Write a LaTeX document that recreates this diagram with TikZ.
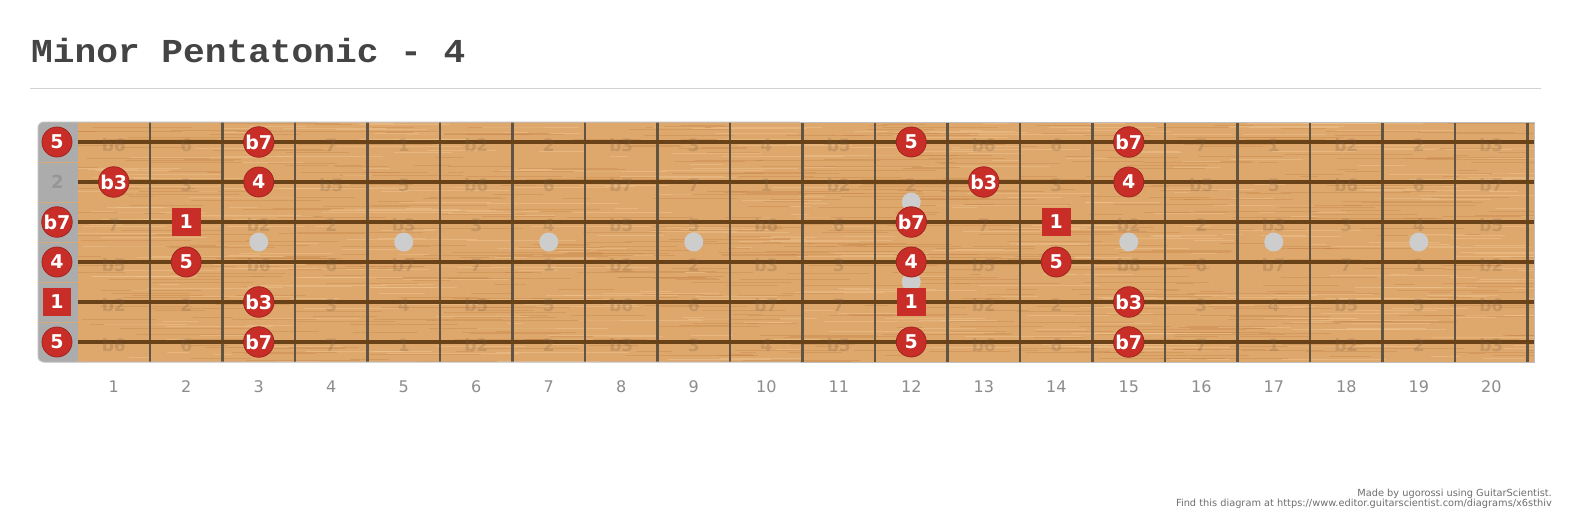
\documentclass[tikz,border=0pt]{standalone}
\usepackage{fontspec}
\setmainfont{DejaVu Sans}
\newfontfamily\titlefont[FakeStretch=1.08]{Liberation Mono}
\usetikzlibrary{positioning}

\definecolor{notered}{RGB}{200,45,40}
\definecolor{wood}{RGB}{222,168,108}
\definecolor{grainDark}{RGB}{190,120,60}
\definecolor{grainLight}{RGB}{242,200,148}
\definecolor{stringcol}{RGB}{105,66,24}
\definecolor{fretcol}{RGB}{98,84,66}
\definecolor{nutgray}{RGB}{172,172,172}
\definecolor{nutline}{RGB}{215,170,120}
\definecolor{nuttext}{RGB}{150,150,150}
\definecolor{inlaygray}{RGB}{205,205,205}
\definecolor{numgray}{RGB}{140,140,140}
\definecolor{titlegray}{RGB}{68,68,68}
\definecolor{rulegray}{RGB}{210,210,210}
\definecolor{bordergray}{RGB}{190,190,190}
\definecolor{ghostgray}{RGB}{120,95,70}
\definecolor{footgray}{RGB}{110,110,110}

% notes de la gamme : corde/case/intervalle/forme
\def\scalenotes{1/3/b7/note, 1/12/5/note, 1/15/b7/note,
                2/1/b3/note, 2/3/4/note, 2/13/b3/note, 2/15/4/note,
                3/2/1/rootnote, 3/12/b7/note, 3/14/1/rootnote,
                4/2/5/note, 4/12/4/note, 4/14/5/note,
                5/3/b3/note, 5/12/1/rootnote, 5/15/b3/note,
                6/3/b7/note, 6/12/5/note, 6/15/b7/note}

\begin{document}
\begin{tikzpicture}[
                x=1pt, y=-1pt,
                note/.style={circle, draw=notered!80!black, line width=0.8pt, fill=notered, minimum size=30, inner sep=0pt, text=white, font=\bfseries\fontsize{19}{19}\selectfont},
                rootnote/.style={rectangle, fill=notered, minimum size=28.5, inner sep=0pt, text=white, font=\bfseries\fontsize{19}{19}\selectfont},
                ghost/.style={text=ghostgray, text opacity=0.25, inner sep=0pt, font=\bfseries\fontsize{17}{17}\selectfont},
                inlay/.style={circle, fill=inlaygray, minimum size=19, inner sep=0pt},
                fretno/.style={text=numgray, inner sep=0pt, font=\fontsize{16}{16}\selectfont},
                footer/.style={text=footgray, inner sep=0pt, anchor=base east, font=\fontsize{9.8}{9.8}\selectfont},
                fretwire/.style={draw=fretcol, line width=2.3pt},
                stringline/.style={draw=stringcol, line width=3.3pt},
                boardedge/.style={draw=bordergray, line width=1pt}]

            % page
            \fill[white] (0,0) rectangle (1573,519);
            \useasboundingbox (0,0) rectangle (1573,519);

            % Titre
            \node[anchor=base west, inner sep=0pt, text=titlegray, font=\titlefont\bfseries\fontsize{33.5}{33.5}\selectfont] (title) at (31,63) {Minor Pentatonic - 4};
            \draw[rulegray, line width=1pt] (30,88) -- (1541,88);

            % Manche
            \fill[nutgray, rounded corners=6] (95,122) -- (38,122) -- (38,362) -- (95,362) -- cycle;
            \fill[wood] (77.5,122) rectangle (1534,362);
            \begin{scope}
                \clip (77.5,122) rectangle (1534,362);
                \pgfmathsetseed{3}
                \foreach \i in {1,...,650} {
                    \pgfmathsetmacro\wx{60+rnd*1480}
                    \pgfmathsetmacro\wy{122+rnd*240}
                    \pgfmathsetmacro\wl{15+rnd*120}
                    \draw[grainDark, opacity=0.3, line width=0.7pt] (\wx,\wy) -- ++(\wl,0);
                }
                \foreach \i in {1,...,450} {
                    \pgfmathsetmacro\wx{60+rnd*1480}
                    \pgfmathsetmacro\wy{122+rnd*240}
                    \pgfmathsetmacro\wl{15+rnd*120}
                    \draw[grainLight, opacity=0.45, line width=0.9pt] (\wx,\wy) -- ++(\wl,0);
                }
            \end{scope}
            \foreach \y in {162,202,...,322}
                \draw[nutline, line width=0.6pt] (38,\y) -- (77.5,\y);
            \foreach \n in {1,...,20}
                \draw[fretwire] (77.5+72.5*\n,122) -- (77.5+72.5*\n,362);
            \foreach \s in {1,...,6}
                \draw[stringline] (77.5,102+40*\s) -- (1534,102+40*\s);
            \draw[boardedge, rounded corners=6] (800,122) -- (38,122) -- (38,362) -- (800,362);
            \draw[boardedge] (800,122) -- (1534,122) -- (1534,362) -- (800,362);

            % intervalles en fond (sauf sous les notes)
            \foreach \s/\f/\t/\k in \scalenotes {
                \expandafter\xdef\csname used-\s-\f\endcsname{}
            }
            \foreach \s/\o in {1/7,2/2,3/10,4/5,5/0,6/7}
                \foreach \f in {1,...,20} {
                    \ifcsname used-\s-\f\endcsname\else
                        \pgfmathsetmacro\lab{{"1","b2","2","b3","3","4","b5","5","b6","6","b7","7"}[int(mod(\o+\f,12))]}
                        \node[ghost] (g-\s-\f) at (41.25+72.5*\f,105+40*\s) {\lab};
                    \fi
                }

            % reperes
            \foreach \f in {3,5,7,9,15,17,19}
                \node[inlay] (dot-\f) at (41.25+72.5*\f,242) {};
            \node[inlay] (dot-12a) at (41.25+72.5*12,202) {};
            \node[inlay] (dot-12b) at (41.25+72.5*12,282) {};

            % numeros de case
            \foreach \f in {1,...,20}
                \node[fretno] (num-\f) at (41.25+72.5*\f,387) {\f};

            % cordes a vide
            \node[text=nuttext, font=\bfseries\fontsize{18}{18}\selectfont] (open-2) at (57.5,182) {2};
            \foreach \s/\t/\k in {1/5/note, 3/b7/note, 4/4/note, 5/1/rootnote, 6/5/note}
                \node[\k] (open-\s) at (57,102+40*\s) {\t};

            % gamme
            \foreach \s/\f/\t/\k in \scalenotes
                \node[\k] (n-\s-\f) at (41.25+72.5*\f,102+40*\s) {\t};

            % pied de page
            \node[footer] (made) at (1552,496) {Made by ugorossi using GuitarScientist.};
            \node[footer] (find) at (1552,506) {Find this diagram at https://www.editor.guitarscientist.com/diagrams/x6sthiv};

        \end{tikzpicture}
\end{document}
